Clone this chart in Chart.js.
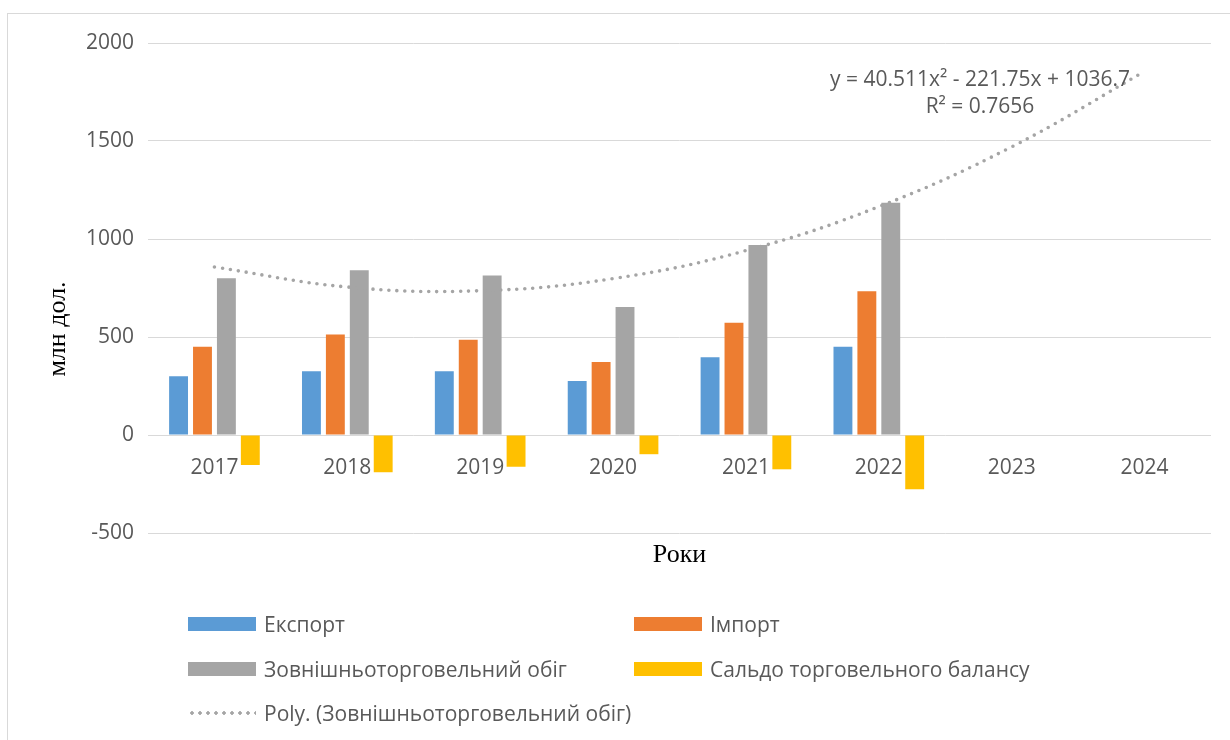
<!DOCTYPE html>
<html lang="uk">
<head>
  <meta charset="UTF-8">
  <title>Зовнішня торгівля</title>
  <style>
    body { margin: 0; background: #fff; }
    .frame { position: absolute; left: 7px; top: 13px; width: 1240px; height: 760px; border: 1px solid #d9d9d9; }
    #chart { position: absolute; left: 0; top: 0; }
    .legend-item { position: absolute; height: 28px; display: flex; align-items: center;
      font-family: "Open Sans", sans-serif; font-size: 21px; color: #595959; white-space: nowrap; }
    .legend-item .swatch { width: 68px; height: 14px; margin-right: 8px; }
    .legend-item .dots { width: 68px; height: 4px; margin-right: 8px;
      background: radial-gradient(circle, #a5a5a5 1.5px, transparent 2px) 0 0 / 8px 4px repeat-x; }
  </style>
</head>
<body>
  <div class="frame"></div>
  <canvas id="chart" width="1230" height="740"></canvas>
  <div id="legend"></div>

  <script src="https://cdn.jsdelivr.net/npm/chart.js"></script>
  <script>
    // дані, зчитані з діаграми (млн дол.)
    const years = ['2017', '2018', '2019', '2020', '2021', '2022', '2023', '2024'];
    const exportVals = [300, 325, 325, 275, 397, 450, null, null];
    const importVals = [450, 513, 486, 372, 573, 734, null, null];
    const turnoverVals = [800, 841, 814, 653, 969, 1185, null, null];
    const balanceVals = [-153, -190, -162, -98, -175, -277, null, null];
    const trendVals = [857, 755, 736, 798, 941, 1165, 1470, 1855];
    const yTicks = [-500, 0, 500, 1000, 1500, 2000];

    const seriesNames = ['Експорт', 'Імпорт', 'Зовнішньоторговельний обіг', 'Сальдо торговельного балансу'];
    const trendName = 'Poly. (Зовнішньоторговельний обіг)';
    const equationText = ['y = 40.511x² - 221.75x + 1036.7', 'R² = 0.7656'];

    const textColor = '#595959';
    const sansFont = '"Open Sans", sans-serif';
    const serifFont = '"Liberation Serif", "Times New Roman", serif';

    var extraText = {
      id: 'extraText',
      afterDraw: function(chart) {
        var ctx = chart.ctx;
        var area = chart.chartArea;
        var y = chart.scales.y;
        ctx.save();
        ctx.fillStyle = textColor;
        ctx.textAlign = 'center';
        ctx.textBaseline = 'middle';

        // рівняння тренду
        ctx.font = '21px ' + sansFont;
        ctx.fillText(equationText[0], area.right - 231, y.getPixelForValue(2000) + 37);
        ctx.fillText(equationText[1], area.right - 231, y.getPixelForValue(2000) + 64);

        // назви осей
        ctx.fillStyle = '#000';
        ctx.font = '26px ' + serifFont;
        ctx.fillText('Роки', (area.left + area.right) / 2, y.getPixelForValue(-500) + 22);
        ctx.translate(area.left - 90, area.top + 286);
        ctx.rotate(-Math.PI / 2);
        ctx.fillText('млн дол.', 0, 0);
        ctx.restore();
      }
    };

    document.addEventListener('DOMContentLoaded', function() {
      var chart = new Chart(document.getElementById('chart'), {
        type: 'bar',
        data: {
          labels: years,
          datasets: [
            { label: seriesNames[0], data: exportVals, backgroundColor: '#5b9bd5', order: 1 },
            { label: seriesNames[1], data: importVals, backgroundColor: '#ed7d31', order: 1 },
            { label: seriesNames[2], data: turnoverVals, backgroundColor: '#a5a5a5', order: 1 },
            { label: seriesNames[3], data: balanceVals, backgroundColor: '#ffc000', order: 1 },
            {
              type: 'line',
              label: trendName,
              data: trendVals,
              borderColor: '#a5a5a5',
              borderWidth: 3.6,
              borderDash: [0, 8],
              borderCapStyle: 'round',
              pointRadius: 0,
              tension: 0.4,
              fill: false,
              order: 0
            }
          ]
        },
        options: {
          responsive: false,
          animation: false,
          devicePixelRatio: 1,
          categoryPercentage: 0.72,
          barPercentage: 0.79,
          layout: { padding: { left: 0, top: 43, right: 19, bottom: 207 } },
          plugins: { legend: { display: false }, tooltip: { enabled: false } },
          scales: {
            x: {
              position: { y: 0 },
              grid: { display: false, drawTicks: false },
              border: { display: false },
              ticks: { color: textColor, font: { family: sansFont, size: 21 }, padding: 20, maxRotation: 0 }
            },
            y: {
              min: -500,
              max: 2000,
              afterFit: function(scale) { scale.width = 148; },
              afterBuildTicks: function(scale) { scale.ticks = yTicks.map(function(v) { return { value: v }; }); },
              grid: { color: '#d9d9d9', lineWidth: 1, drawTicks: false },
              border: { display: false },
              ticks: {
                color: textColor,
                font: { family: sansFont, size: 21 },
                padding: 14,
                callback: function(value) { return String(value); }
              }
            }
          }
        },
        plugins: [extraText]
      });

      // легенда у два стовпці, як у Excel
      var legend = document.getElementById('legend');
      var spots = [[188, 610], [634, 610], [188, 655], [634, 655], [188, 699]];
      chart.data.datasets.forEach(function(ds, i) {
        var item = document.createElement('div');
        item.className = 'legend-item';
        item.style.left = spots[i][0] + 'px';
        item.style.top = spots[i][1] + 'px';
        var mark = document.createElement('span');
        if (ds.type === 'line') {
          mark.className = 'dots';
        } else {
          mark.className = 'swatch';
          mark.style.background = ds.backgroundColor;
        }
        item.appendChild(mark);
        item.appendChild(document.createTextNode(ds.label));
        legend.appendChild(item);
      });
    });
  </script>
</body>
</html>
